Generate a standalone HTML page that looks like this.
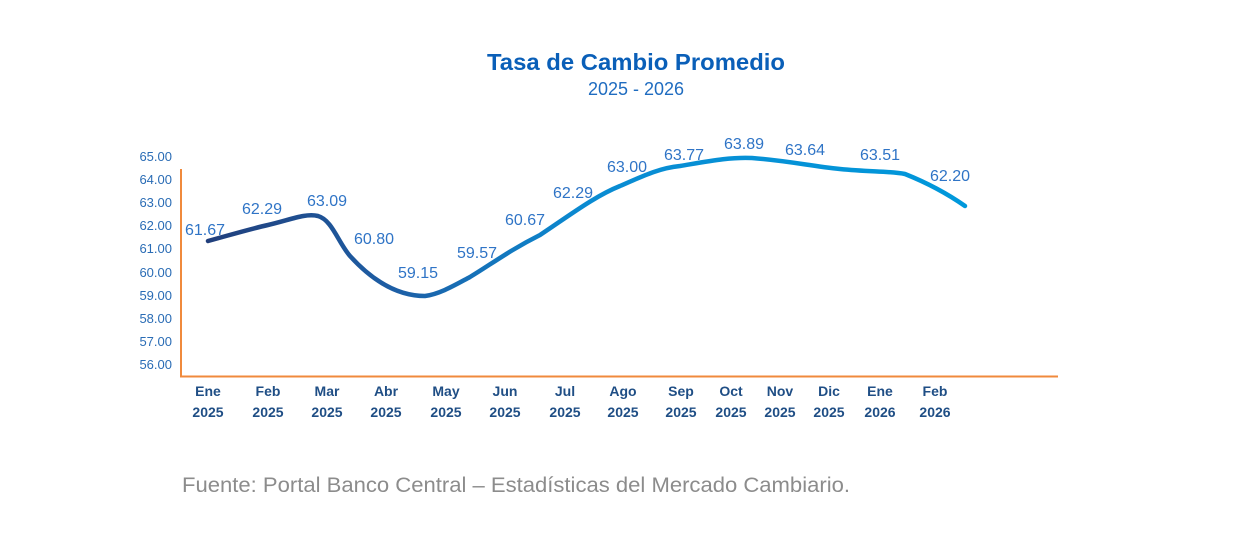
<!DOCTYPE html>
<html><head><meta charset="utf-8"><style>
body{margin:0;background:#fff;}
svg text{font-family:"Liberation Sans",sans-serif;}
</style></head><body>
<svg width="1250" height="535" viewBox="0 0 1250 535" xmlns="http://www.w3.org/2000/svg">
<defs><linearGradient id="g" x1="208" y1="0" x2="965" y2="0" gradientUnits="userSpaceOnUse">
<stop offset="0" stop-color="#213f7c"/><stop offset="0.25" stop-color="#1d5fa6"/><stop offset="0.5" stop-color="#0a8bd2"/><stop offset="1" stop-color="#0098db"/></linearGradient></defs>
<text x="487" y="70" font-size="23" font-weight="bold" fill="#0a5fb8" textLength="298" lengthAdjust="spacingAndGlyphs">Tasa de Cambio Promedio</text>
<text x="636" y="95" text-anchor="middle" font-size="18" fill="#1f6cc0">2025 - 2026</text>
<g font-size="13" fill="#2a6cb5" text-anchor="end">
<text x="172" y="161">65.00</text><text x="172" y="184">64.00</text><text x="172" y="207">63.00</text><text x="172" y="230">62.00</text><text x="172" y="253">61.00</text><text x="172" y="277">60.00</text><text x="172" y="300">59.00</text><text x="172" y="323">58.00</text><text x="172" y="346">57.00</text><text x="172" y="369">56.00</text>
</g>
<line x1="181" y1="169" x2="181" y2="377" stroke="#f08a3c" stroke-width="2"/>
<line x1="180" y1="376.5" x2="1058" y2="376.5" stroke="#f08a3c" stroke-width="2"/>
<path d="M208,241 C230,235 250,229 268,225 C290,220 305,213 318,216 C332,220 338,242 350,256 C370,278 395,296 425,296 C440,294 455,285 470,277 C490,265 510,250 540,235 C570,215 595,196 620,186 C645,175 660,168 680,166 C710,161 730,157 752,158 C790,161 810,166 840,169 C870,172 890,171 905,174 C925,182 945,192 965,206" fill="none" stroke="url(#g)" stroke-width="4.5" stroke-linecap="round"/>
<g font-size="16" fill="#2f74c6" text-anchor="middle">
<text x="205" y="235">61.67</text><text x="262" y="214">62.29</text><text x="327" y="206">63.09</text><text x="374" y="244">60.80</text><text x="418" y="278">59.15</text><text x="477" y="258">59.57</text><text x="525" y="225">60.67</text><text x="573" y="198">62.29</text><text x="627" y="172">63.00</text><text x="684" y="160">63.77</text><text x="744" y="149">63.89</text><text x="805" y="155">63.64</text><text x="880" y="160">63.51</text><text x="950" y="181">62.20</text>
</g>
<g font-size="14" font-weight="bold" fill="#1f4e85" text-anchor="middle">
<text x="208" y="396">Ene</text><text x="208" y="417">2025</text>
<text x="268" y="396">Feb</text><text x="268" y="417">2025</text>
<text x="327" y="396">Mar</text><text x="327" y="417">2025</text>
<text x="386" y="396">Abr</text><text x="386" y="417">2025</text>
<text x="446" y="396">May</text><text x="446" y="417">2025</text>
<text x="505" y="396">Jun</text><text x="505" y="417">2025</text>
<text x="565" y="396">Jul</text><text x="565" y="417">2025</text>
<text x="623" y="396">Ago</text><text x="623" y="417">2025</text>
<text x="681" y="396">Sep</text><text x="681" y="417">2025</text>
<text x="731" y="396">Oct</text><text x="731" y="417">2025</text>
<text x="780" y="396">Nov</text><text x="780" y="417">2025</text>
<text x="829" y="396">Dic</text><text x="829" y="417">2025</text>
<text x="880" y="396">Ene</text><text x="880" y="417">2026</text>
<text x="935" y="396">Feb</text><text x="935" y="417">2026</text>
</g>
<text x="182" y="492" font-size="21" fill="#8c8c8c" textLength="668" lengthAdjust="spacingAndGlyphs">Fuente: Portal Banco Central – Estadísticas del Mercado Cambiario.</text>
</svg>
</body></html>
